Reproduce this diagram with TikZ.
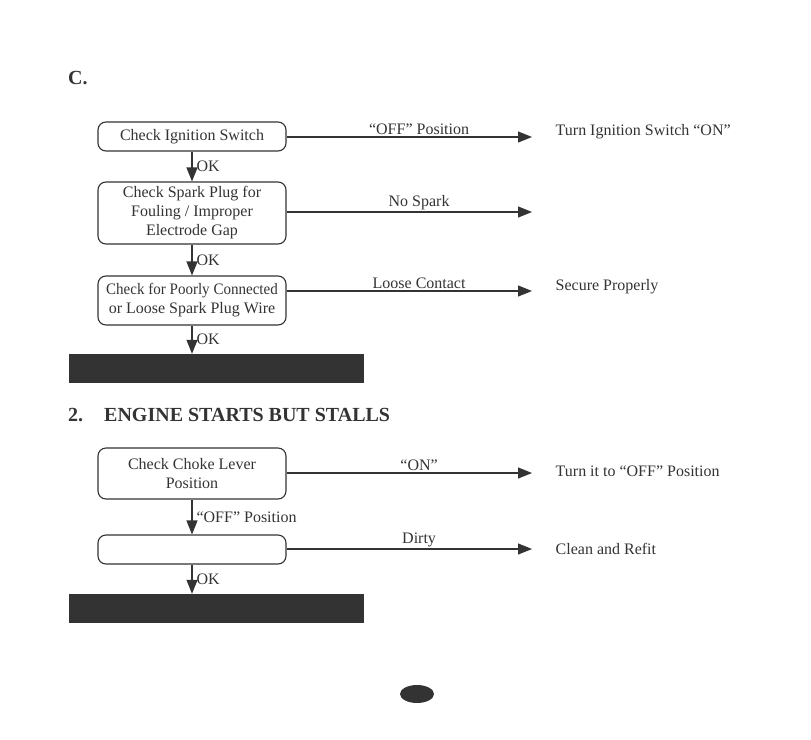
\documentclass[tikz,border=0pt]{standalone}
\usepackage{fontspec}
\setmainfont{Liberation Serif}
\usetikzlibrary{arrows.meta,shapes.geometric}
\definecolor{ink}{HTML}{333333}

\begin{document}
\begin{tikzpicture}[x=1pt,y=-1pt,
  chk/.style={draw=ink, line width=1.1pt, rounded corners=8pt, minimum width=188pt,
    align=center, inner sep=0pt, text=ink, font=\fontsize{16}{19}\selectfont},
  bar/.style={fill=ink, minimum width=295pt, minimum height=29pt, inner sep=0pt},
  lbl/.style={text=ink, font=\fontsize{16}{19}\selectfont, inner sep=1.5pt},
  okl/.style={lbl, midway, right, xshift=2.5pt},
  hd/.style={text=ink, font=\fontsize{20}{23}\selectfont\bfseries, anchor=west, inner sep=0pt}]
\useasboundingbox (0,0) rectangle (811,739);
\tikzset{>={Triangle[length=14pt,width=11pt]}}
\node[hd] (secc) at (68,78) {C.};
\node[chk, minimum height=29pt] (ign) at (192,136.5) {Check Ignition Switch};
\node[chk, minimum height=62pt] (plug) at (192,213) {Check Spark Plug for\\Fouling / Improper\\Electrode Gap};
\node[chk, minimum height=49pt] (wire) at (192,300.5) {\scalebox{0.94}[1]{Check for Poorly Connected}\\or Loose Spark Plug Wire};
\node[bar] (bar1) at (216.5,368.5) {};
\draw [ink, line width=1.1pt, ->] (ign) -- (plug) node[okl] {OK};
\draw [ink, line width=1.1pt, ->] (plug) -- (wire) node[okl] {OK};
\draw [ink, line width=1.1pt, ->] (wire) -- (bar1.north -| wire) node[okl] {OK};
% branches to the right
\coordinate (e1) at (532,137);
\coordinate (e2) at (532,212);
\coordinate (e3) at (532,291);
\draw [ink, line width=1.1pt, ->] (ign.east |- e1) -- (e1) node[lbl, pos=0.54, above] {“OFF” Position};
\draw [ink, line width=1.1pt, ->] (plug.east |- e2) -- (e2) node[lbl, pos=0.54, above] {No Spark};
\draw [ink, line width=1.1pt, ->] (wire.east |- e3) -- (e3) node[lbl, pos=0.54, above] {Loose Contact};
\node[lbl, anchor=west] (r1) at (554,132) {Turn Ignition Switch “ON”};
\node[lbl, anchor=west] (r3) at (554,287) {Secure Properly};

\node[hd] (sec2) at (68,415) {2.\hspace{21pt}ENGINE STARTS BUT STALLS};
\node[chk, minimum height=51pt] (choke) at (192,473.5) {Check Choke Lever\\Position};
\node[chk, minimum height=29pt] (blank) at (192,549.5) {};
\node[bar] (bar2) at (216.5,608.5) {};
\draw [ink, line width=1.1pt, ->] (choke) -- (blank) node[okl] {“OFF” Position};
\draw [ink, line width=1.1pt, ->] (blank) -- (bar2.north -| blank) node[okl] {OK};
\coordinate (e4) at (532,473);
\coordinate (e5) at (532,549);
\draw [ink, line width=1.1pt, ->] (choke.east |- e4) -- (e4) node[lbl, pos=0.54, above] {“ON”};
\draw [ink, line width=1.1pt, ->] (blank.east |- e5) -- (e5) node[lbl, pos=0.54, above] {Dirty};
\node[lbl, anchor=west] (r4) at (554,471) {Turn it to “OFF” Position};
\node[lbl, anchor=west] (r5) at (554,549) {Clean and Refit};

\node[ellipse, fill=ink, minimum width=34pt, minimum height=18pt, inner sep=0pt] (pgno) at (417,694) {};
\end{tikzpicture}
\end{document}
